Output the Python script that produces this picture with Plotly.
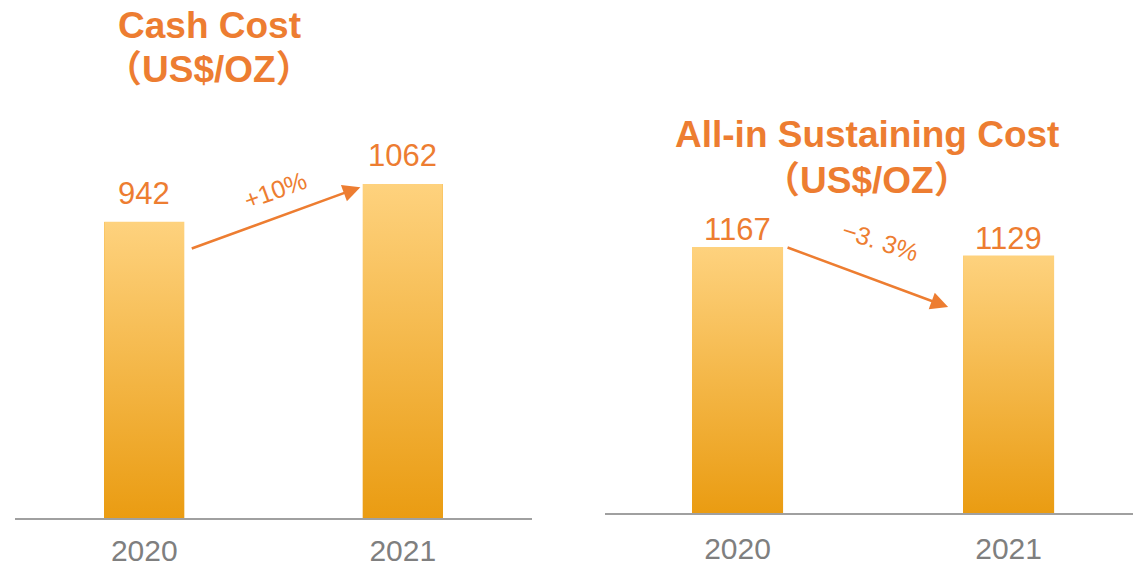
import plotly.graph_objects as go

# Data
years = ["2020", "2021"]
cash_cost = [942, 1062]
aisc = [1167, 1129]
cash_change = "+10%"
aisc_change = "−3. 3%"

ORANGE = "#ED7D31"
TOP = "#FED27E"
BOTTOM = "#EA9C12"
GRAY_TXT = "#7F7F7F"
AXIS_LINE = "#A0A0A0"
FONT = "Liberation Sans, Arial, sans-serif"
CJK = "Liberation Sans, Noto Sans CJK SC, sans-serif"

W, H = 1133, 570
LEFT_W, RIGHT_W = 0.31, 0.336

fig = go.Figure()


def add_panel(values, width, xa, ya):
    xs = list(range(len(values)))
    # plain bars carry the values
    fig.add_trace(go.Bar(x=xs, y=values, width=width, marker=dict(color=BOTTOM, line=dict(width=0)),
                         xaxis=xa, yaxis=ya, showlegend=False, hoverinfo="skip"))
    # vertical gradient skin over each bar
    for i, v in zip(xs, values):
        fig.add_trace(go.Scatter(
            x=[i - width / 2, i + width / 2, i + width / 2, i - width / 2, i - width / 2],
            y=[0, 0, v, v, 0], mode="lines", line=dict(width=0), fill="toself",
            fillgradient=dict(type="vertical", colorscale=[[0, BOTTOM], [1, TOP]]),
            xaxis=xa, yaxis=ya, showlegend=False, hoverinfo="skip"))


add_panel(cash_cost, LEFT_W, "x", "y")
add_panel(aisc, RIGHT_W, "x2", "y2")

axis_common = dict(showline=True, linecolor=AXIS_LINE, linewidth=2, showgrid=False, zeroline=False,
                   ticks="", tickfont=dict(family=FONT, size=30, color=GRAY_TXT), automargin=False,
                   fixedrange=True)

fig.update_layout(
    width=W, height=H, margin=dict(l=0, r=0, t=0, b=0),
    paper_bgcolor="white", plot_bgcolor="white", bargap=0,
    xaxis=dict(domain=[15 / W, 532 / W], range=[-0.5, 1.5], tickvals=[0, 1], ticktext=years,
               ticklabelstandoff=5, **axis_common),
    yaxis=dict(domain=[52 / H, 1], range=[0, 1647], visible=False),
    xaxis2=dict(domain=[605 / W, 1], range=[-0.489, 1.459], tickvals=[0, 1], ticktext=years,
                ticklabelstandoff=8, anchor="y2", **axis_common),
    yaxis2=dict(domain=[57 / H, 1], range=[0, 2250], visible=False, anchor="x2"),
)

ann = []
# value labels
for i, v in enumerate(cash_cost):
    ann.append(dict(x=i, y=v, xref="x", yref="y", text=str(v), showarrow=False, yanchor="bottom",
                    xanchor="center", yshift=9, font=dict(family=FONT, size=31, color=ORANGE)))
for i, v in enumerate(aisc):
    ann.append(dict(x=i, y=v, xref="x2", yref="y2", text=str(v), showarrow=False, yanchor="bottom",
                    xanchor="center", yshift=-2, font=dict(family=FONT, size=31, color=ORANGE)))

# panel titles
title_font = dict(family=FONT, size=37, color=ORANGE)
title_font_cjk = dict(family=CJK, size=37, color=ORANGE)
ann.append(dict(x=209 / W, y=1 - 25 / H, xref="paper", yref="paper", text="<b>Cash Cost</b>",
                showarrow=False, xanchor="center", yanchor="middle", font=title_font))
ann.append(dict(x=209 / W, y=1 - 69 / H, xref="paper", yref="paper", text="<b>（US$/OZ）</b>",
                showarrow=False, xanchor="center", yanchor="middle", font=title_font_cjk))
ann.append(dict(x=867 / W, y=1 - 134 / H, xref="paper", yref="paper", text="<b>All-in Sustaining Cost</b>",
                showarrow=False, xanchor="center", yanchor="middle", font=title_font))
ann.append(dict(x=867 / W, y=1 - 180 / H, xref="paper", yref="paper", text="<b>（US$/OZ）</b>",
                showarrow=False, xanchor="center", yanchor="middle", font=title_font_cjk))

# change arrows
ann.append(dict(x=0.836, y=1052, ax=0.178, ay=855, xref="x", yref="y", axref="x", ayref="y",
                text="", showarrow=True, arrowhead=2, arrowsize=1.4, arrowwidth=2.5, arrowcolor=ORANGE))
ann.append(dict(x=275 / W, y=1 - 190 / H, xref="paper", yref="paper", text=cash_change, showarrow=False,
                xanchor="center", yanchor="middle", textangle=-20,
                font=dict(family=FONT, size=25, color=ORANGE)))
ann.append(dict(x=0.777, y=903, ax=0.179, ay=1167, xref="x2", yref="y2", axref="x2", ayref="y2",
                text="", showarrow=True, arrowhead=2, arrowsize=1.4, arrowwidth=2.5, arrowcolor=ORANGE))
ann.append(dict(x=880 / W, y=1 - 241 / H, xref="paper", yref="paper", text=aisc_change, showarrow=False,
                xanchor="center", yanchor="middle", textangle=18,
                font=dict(family=FONT, size=25, color=ORANGE)))

fig.update_layout(annotations=ann)
fig.write_html("out.html")
